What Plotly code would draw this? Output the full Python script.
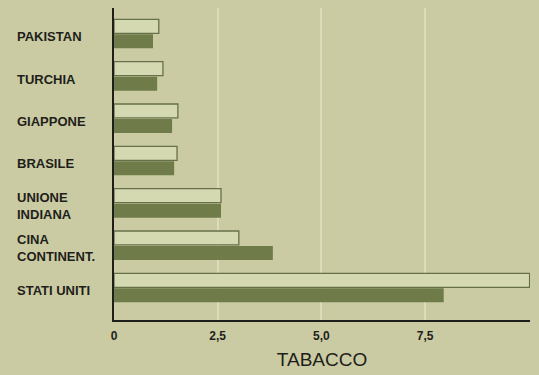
import plotly.graph_objects as go

# Data (top to bottom as shown)
countries = ["PAKISTAN", "TURCHIA", "GIAPPONE", "BRASILE", "UNIONE<br>INDIANA", "CINA<br>CONTINENT.", "STATI UNITI"]
light_values = [1.08, 1.18, 1.54, 1.52, 2.58, 3.01, 10.02]
dark_values = [0.94, 1.04, 1.40, 1.45, 2.58, 3.83, 7.95]
tick_vals = [0, 2.5, 5.0, 7.5]
tick_text = ["0", "2,5", "5,0", "7,5"]
axis_title = "TABACCO"

# plotly draws categories bottom-up
cats = countries[::-1]
light = light_values[::-1]
dark = dark_values[::-1]

BG = "#cacba3"
LIGHT = "#d5d9b2"
DARK = "#6f7c4a"
EDGE = "#66714a"
INK = "#1e1e1a"

fig = go.Figure()
fig.add_trace(go.Bar(y=cats, x=dark, orientation="h", name="dark",
                     marker=dict(color=DARK, line=dict(width=0))))
fig.add_trace(go.Bar(y=cats, x=light, orientation="h", name="light",
                     marker=dict(color=LIGHT, line=dict(color=EDGE, width=1.3))))

for c in cats:
    fig.add_annotation(x=-0.238, xref="paper", y=c, yref="y", text="<b>" + c + "</b>",
                       showarrow=False, xanchor="left", yanchor="middle", align="left",
                       yshift=-3,
                       font=dict(family="Liberation Sans", size=13, color=INK))

fig.update_layout(
    width=539, height=375,
    margin=dict(l=114, r=9, t=8, b=55),
    paper_bgcolor=BG, plot_bgcolor=BG,
    barmode="group", bargap=0.29, bargroupgap=0.07,
    showlegend=False,
    xaxis=dict(range=[0, 10.03], tickvals=tick_vals,
               ticktext=["<b>" + t + "</b>" for t in tick_text],
               tickfont=dict(family="Liberation Sans", size=12, color=INK),
               showgrid=True, gridcolor="#dcdcbc", gridwidth=2,
               zeroline=False, showline=True, linecolor=INK, linewidth=1.5,
               ticks="", ticklabelstandoff=4, automargin=False,
               title=dict(text=axis_title, standoff=11,
                          font=dict(family="Liberation Sans", size=19, color=INK))),
    yaxis=dict(range=[-0.76, 6.61], showticklabels=False, showgrid=False,
               zeroline=False, showline=True, linecolor=INK, linewidth=2,
               ticks="", automargin=False),
)

fig.write_html("out.html", config={"displayModeBar": False},
               post_script="document.body.style.margin='0';document.body.style.background='" + BG + "';")
